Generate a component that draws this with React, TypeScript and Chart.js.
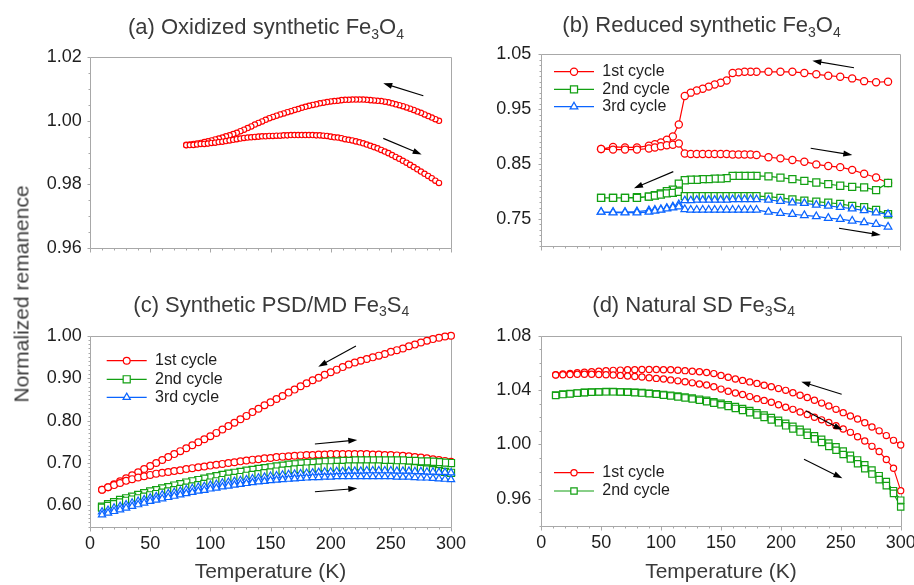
import React, { useEffect, useRef } from 'react';
import { Chart, registerables } from 'chart.js';

Chart.register(...registerables);

const FONT = '"Liberation Sans", Arial, Helvetica, sans-serif';
const RED = '#ff0000';
const GREEN = '#12a012';
const BLUE = '#0a64ff';
const AXIS = '#a8a8a8';
const INK = '#1e1e1e';
const TITLE_INK = '#3a3a3a';

// ---------- shared x axis ----------
const X_TICKS = [0, 50, 100, 150, 200, 250, 300];
const X_MINOR = 10;

// ---------- (a) Oxidized synthetic Fe3O4 ----------
const A_YTICKS = [0.96, 0.98, 1.0, 1.02];
const A_T = [
  80, 83, 86, 89, 92, 95, 98, 101, 104, 107,
  110, 113, 116, 119, 122, 125, 128, 131, 134, 137,
  140, 143, 146, 149, 152, 155, 158, 161, 164, 167,
  170, 173, 176, 179, 182, 185, 188, 191, 194, 197,
  200, 203, 206, 209, 212, 215, 218, 221, 224, 227,
  230, 233, 236, 239, 242, 245, 248, 251, 254, 257,
  260, 263, 266, 269, 272, 275, 278, 281, 284, 287,
  290,
];
// cooling branch (upper), listed by ascending temperature
const A_COOL = [
  0.9924, 0.99255, 0.9927, 0.99285, 0.993, 0.9933, 0.9935, 0.9938, 0.9941, 0.9944,
  0.9947, 0.9951, 0.9954, 0.9958, 0.9962, 0.9967, 0.9972, 0.9977, 0.9982, 0.9988,
  0.9993, 0.9998, 1.0003, 1.0008, 1.0012, 1.0016, 1.002, 1.0023, 1.0027, 1.003,
  1.0034, 1.0037, 1.0041, 1.0044, 1.0047, 1.005, 1.0052, 1.0055, 1.0057, 1.0059,
  1.0061, 1.0062, 1.0063, 1.0065, 1.0066, 1.0066, 1.0067, 1.0067, 1.0067, 1.0067,
  1.0066, 1.0065, 1.0064, 1.0063, 1.0062, 1.006, 1.0058, 1.0055, 1.0052, 1.0049,
  1.0046, 1.0042, 1.0038, 1.0034, 1.0029, 1.0025, 1.002, 1.0015, 1.001, 1.0005,
  1.0,
];
// warming branch (lower)
const A_WARM = [
  0.9923, 0.99235, 0.9924, 0.99255, 0.9927, 0.9927, 0.9928, 0.993, 0.9931, 0.9933,
  0.9934, 0.9936, 0.9938, 0.994, 0.9942, 0.9944, 0.9946, 0.9947, 0.9948, 0.9949,
  0.995, 0.9951, 0.9951, 0.9952, 0.9952, 0.9953, 0.9953, 0.9954, 0.9954, 0.9955,
  0.9955, 0.9955, 0.9955, 0.9955, 0.9955, 0.9955, 0.9954, 0.9954, 0.9953, 0.9952,
  0.995, 0.9948, 0.9947, 0.9945, 0.9942, 0.994, 0.9938, 0.9935, 0.9932, 0.9929,
  0.9925, 0.9921, 0.9917, 0.9913, 0.9908, 0.9903, 0.9898, 0.9892, 0.9886, 0.988,
  0.9874, 0.9868, 0.9861, 0.9854, 0.9847, 0.984, 0.9833, 0.9826, 0.9819, 0.9811,
  0.9804,
];
const A_ARROWS = [
  [277, 1.0079, 243.7, 1.0118],
  [243.7, 0.99445, 275.6, 0.9894],
];

// ---------- (b) Reduced synthetic Fe3O4 ----------
const B_YTICKS = [0.75, 0.85, 0.95, 1.05];
const B_COOL_T = [
  290, 280, 270, 260, 250, 240, 230, 220, 210, 200, 190,
  180, 175, 170, 165, 160, 155, 150, 145, 140, 135, 130, 125, 120,
  115, 110, 105, 100, 95, 90,
  80, 70, 60, 50,
];
const B_WARM_T = [
  50, 60, 70, 80,
  90, 95, 100, 105, 110, 115,
  120, 125, 130, 135, 140, 145, 150, 155, 160, 165, 170, 175, 180,
  190, 200, 210, 220, 230, 240, 250, 260, 270, 280, 290,
];
const B1_COOL = [
  1.0, 0.999, 1.001, 1.006, 1.009, 1.011, 1.0135, 1.016, 1.018, 1.018, 1.018,
  1.018, 1.018, 1.018, 1.017, 1.016, 1.002, 0.998, 0.995, 0.991, 0.987, 0.984, 0.98, 0.974,
  0.922, 0.9, 0.894, 0.889, 0.886, 0.883,
  0.88, 0.88, 0.881, 0.877,
];
const B1_WARM = [
  0.877, 0.876, 0.876, 0.876,
  0.878, 0.88, 0.882, 0.884, 0.885, 0.887,
  0.869, 0.868, 0.868, 0.868, 0.868, 0.868, 0.868, 0.868, 0.867, 0.867, 0.867, 0.867, 0.866,
  0.862, 0.86, 0.857, 0.854, 0.849, 0.846, 0.844, 0.839, 0.832, 0.825, 0.815,
];
const B2_COOL = [
  0.815, 0.802, 0.807, 0.808, 0.81, 0.813, 0.816, 0.819, 0.822, 0.825, 0.827,
  0.828, 0.828, 0.828, 0.828, 0.828, 0.824, 0.823, 0.823, 0.822, 0.822, 0.821, 0.821, 0.82,
  0.814, 0.803, 0.8, 0.796, 0.793, 0.79,
  0.789, 0.788, 0.788, 0.788,
];
const B2_WARM = [
  0.788, 0.788, 0.788, 0.788,
  0.79, 0.792, 0.794, 0.796, 0.797, 0.799,
  0.791, 0.791, 0.791, 0.791, 0.791, 0.791, 0.791, 0.791, 0.791, 0.791, 0.791, 0.791, 0.791,
  0.79, 0.788, 0.785, 0.783, 0.781, 0.779, 0.777, 0.773, 0.771, 0.766, 0.758,
];
const B3_COOL = [
  0.758, 0.761, 0.765, 0.768, 0.771, 0.773, 0.775, 0.778, 0.779, 0.782, 0.784,
  0.785, 0.785, 0.785, 0.785, 0.785, 0.784, 0.784, 0.784, 0.784, 0.784, 0.784, 0.783, 0.783,
  0.776, 0.772, 0.769, 0.767, 0.766, 0.765,
  0.763, 0.762, 0.762, 0.762,
];
const B3_WARM = [
  0.762, 0.761, 0.761, 0.761,
  0.762, 0.764, 0.766, 0.768, 0.77, 0.772,
  0.767, 0.766, 0.766, 0.766, 0.766, 0.766, 0.766, 0.766, 0.766, 0.766, 0.766, 0.766, 0.766,
  0.762, 0.76, 0.758, 0.756, 0.754, 0.751, 0.749, 0.746, 0.743, 0.74, 0.735,
];
const B_ARROWS = [
  [261.5, 1.0255, 226.7, 1.0383],
  [225.3, 0.8785, 260.1, 0.8662],
  [110.4, 0.8358, 77.5, 0.8055],
  [249, 0.7325, 283.9, 0.72],
];

// ---------- (c) Synthetic PSD/MD Fe3S4 ----------
const C_YTICKS = [0.6, 0.7, 0.8, 0.9, 1.0];
const C_T = [
  10, 15, 20, 25, 30, 35, 40, 45, 50, 55,
  60, 65, 70, 75, 80, 85, 90, 95, 100, 105,
  110, 115, 120, 125, 130, 135, 140, 145, 150, 155,
  160, 165, 170, 175, 180, 185, 190, 195, 200, 205,
  210, 215, 220, 225, 230, 235, 240, 245, 250, 255,
  260, 265, 270, 275, 280, 285, 290, 295, 300,
];
const C1_COOL = [
  0.637, 0.643, 0.65, 0.657, 0.664, 0.671, 0.678, 0.686, 0.693, 0.7,
  0.707, 0.714, 0.721, 0.728, 0.735, 0.742, 0.749, 0.756, 0.763, 0.771,
  0.779, 0.787, 0.795, 0.803, 0.811, 0.82, 0.828, 0.836, 0.843, 0.851,
  0.858, 0.866, 0.873, 0.881, 0.888, 0.895, 0.901, 0.908, 0.914, 0.92,
  0.926, 0.932, 0.937, 0.941, 0.945, 0.949, 0.953, 0.957, 0.962, 0.966,
  0.97, 0.975, 0.979, 0.984, 0.988, 0.992, 0.995, 0.998, 1.0,
];
const C1_WARM = [
  0.637, 0.643, 0.648, 0.653, 0.658, 0.662, 0.666, 0.669, 0.672, 0.675,
  0.677, 0.679, 0.681, 0.683, 0.686, 0.688, 0.69, 0.692, 0.694, 0.696,
  0.698, 0.7, 0.702, 0.704, 0.706, 0.708, 0.709, 0.711, 0.712, 0.714,
  0.715, 0.716, 0.717, 0.718, 0.719, 0.719, 0.72, 0.72, 0.721, 0.721,
  0.721, 0.721, 0.721, 0.721, 0.721, 0.72, 0.72, 0.719, 0.719, 0.718,
  0.717, 0.716, 0.714, 0.713, 0.711, 0.709, 0.707, 0.705, 0.703,
];
const C2_COOL = [
  0.597, 0.603, 0.608, 0.613, 0.617, 0.621, 0.625, 0.629, 0.633, 0.636,
  0.64, 0.643, 0.647, 0.65, 0.654, 0.657, 0.66, 0.663, 0.666, 0.669,
  0.672, 0.675, 0.677, 0.679, 0.682, 0.684, 0.686, 0.688, 0.69, 0.692,
  0.694, 0.696, 0.697, 0.699, 0.7, 0.701, 0.702, 0.703, 0.704, 0.704,
  0.705, 0.705, 0.706, 0.706, 0.706, 0.706, 0.706, 0.706, 0.706, 0.706,
  0.706, 0.705, 0.705, 0.704, 0.704, 0.703, 0.702, 0.701, 0.7,
];
const C2_WARM = [
  0.595, 0.599, 0.603, 0.607, 0.611, 0.614, 0.617, 0.621, 0.624, 0.627,
  0.63, 0.633, 0.636, 0.639, 0.642, 0.645, 0.648, 0.651, 0.654, 0.657,
  0.66, 0.663, 0.665, 0.667, 0.67, 0.672, 0.674, 0.676, 0.678, 0.68,
  0.682, 0.683, 0.685, 0.686, 0.687, 0.688, 0.689, 0.69, 0.69, 0.691,
  0.691, 0.692, 0.692, 0.692, 0.692, 0.692, 0.692, 0.691, 0.691, 0.69,
  0.69, 0.689, 0.688, 0.686, 0.685, 0.683, 0.681, 0.679, 0.677,
];
const C3_COOL = [
  0.585, 0.589, 0.594, 0.598, 0.602, 0.606, 0.61, 0.614, 0.618, 0.621,
  0.625, 0.628, 0.631, 0.634, 0.637, 0.64, 0.643, 0.645, 0.648, 0.65,
  0.653, 0.655, 0.657, 0.659, 0.661, 0.663, 0.665, 0.667, 0.669, 0.67,
  0.672, 0.673, 0.674, 0.675, 0.676, 0.677, 0.678, 0.679, 0.679, 0.68,
  0.68, 0.681, 0.681, 0.681, 0.682, 0.682, 0.682, 0.682, 0.682, 0.681,
  0.681, 0.681, 0.68, 0.68, 0.679, 0.679, 0.678, 0.678, 0.677,
];
const C3_WARM = [
  0.578, 0.582, 0.586, 0.59, 0.594, 0.598, 0.602, 0.606, 0.61, 0.613,
  0.616, 0.619, 0.622, 0.625, 0.628, 0.631, 0.634, 0.636, 0.639, 0.641,
  0.644, 0.646, 0.648, 0.65, 0.652, 0.654, 0.656, 0.657, 0.659, 0.66,
  0.661, 0.662, 0.663, 0.664, 0.665, 0.666, 0.666, 0.667, 0.667, 0.668,
  0.668, 0.668, 0.668, 0.668, 0.668, 0.668, 0.668, 0.668, 0.668, 0.667,
  0.667, 0.667, 0.666, 0.665, 0.665, 0.664, 0.663, 0.662, 0.661,
];
const C_ARROWS = [
  [221, 0.9757, 189.7, 0.927],
  [186.9, 0.7448, 222.1, 0.7543],
  [186.9, 0.6324, 222.1, 0.6403],
];

// ---------- (d) Natural SD Fe3S4 ----------
const D_YTICKS = [0.96, 1.0, 1.04, 1.08];
const D_T = [
  12, 18, 24, 30, 36, 42, 48, 54, 60, 66,
  72, 78, 84, 90, 96, 102, 108, 114, 120, 126,
  132, 138, 144, 150, 156, 162, 168, 174, 180, 186,
  192, 198, 204, 210, 216, 222, 228, 234, 240, 246,
  252, 258, 264, 270, 276, 282, 288, 294, 300,
];
const D1_COOL = [
  1.0513, 1.0518, 1.0522, 1.0527, 1.0531, 1.0535, 1.0539, 1.0542, 1.0545, 1.0547,
  1.0549, 1.055, 1.0551, 1.0551, 1.0551, 1.055, 1.0549, 1.0546, 1.0543, 1.0539,
  1.0535, 1.0529, 1.0521, 1.0508, 1.0494, 1.0482, 1.0471, 1.046, 1.0449, 1.0436,
  1.0424, 1.0411, 1.0398, 1.038, 1.0362, 1.0345, 1.0325, 1.0304, 1.0283, 1.0258,
  1.0234, 1.0209, 1.0187, 1.016, 1.0128, 1.01, 1.0065, 1.003, 0.9996,
];
const D1_WARM = [
  1.0511, 1.0513, 1.0515, 1.0516, 1.0516, 1.0516, 1.0515, 1.0513, 1.0511, 1.0508,
  1.0504, 1.05, 1.0496, 1.0491, 1.0486, 1.0481, 1.0475, 1.0468, 1.0461, 1.0453,
  1.0445, 1.0437, 1.0424, 1.0407, 1.0391, 1.0378, 1.0367, 1.0352, 1.0337, 1.0324,
  1.031, 1.0292, 1.0274, 1.0258, 1.0239, 1.022, 1.02, 1.0181, 1.0161, 1.0137,
  1.0114, 1.0089, 1.0057, 1.0025, 0.9986, 0.9948, 0.9889, 0.9825, 0.966,
];
const D2_COOL = [
  1.0364, 1.037, 1.0375, 1.0379, 1.0383, 1.0386, 1.0388, 1.0389, 1.0389, 1.0388,
  1.0386, 1.0384, 1.0381, 1.0377, 1.0373, 1.0368, 1.0362, 1.0356, 1.0349, 1.0341,
  1.0333, 1.0324, 1.0314, 1.0303, 1.0291, 1.0278, 1.0264, 1.0249, 1.0233, 1.0216,
  1.0198, 1.0178, 1.0156, 1.0134, 1.0112, 1.0089, 1.0064, 1.0038, 1.001, 0.9982,
  0.9952, 0.992, 0.9886, 0.985, 0.9811, 0.977, 0.9727, 0.966, 0.959,
];
const D2_WARM = [
  1.036, 1.0367, 1.0372, 1.0377, 1.0381, 1.0384, 1.0386, 1.0387, 1.0387, 1.0386,
  1.0384, 1.0381, 1.0378, 1.0374, 1.0369, 1.0363, 1.0357, 1.035, 1.0342, 1.0334,
  1.0325, 1.0315, 1.0304, 1.0292, 1.0279, 1.0265, 1.025, 1.0234, 1.0217, 1.0199,
  1.018, 1.0159, 1.0137, 1.0114, 1.0091, 1.0067, 1.0041, 1.0014, 0.9986, 0.9957,
  0.9926, 0.9893, 0.9858, 0.9821, 0.9782, 0.9741, 0.9697, 0.964, 0.954,
];
const D_ARROWS = [
  [250.7, 1.0369, 217, 1.0462],
  [220.7, 1.0248, 251.3, 1.0106],
  [219.3, 0.9891, 251.3, 0.9751],
];

// ---------- helpers ----------
type Pt = { x: number; y: number };
const pts = (T: number[], V: number[]): Pt[] => T.map((t, i) => ({ x: t, y: V[i] }));
const cycle = (Tc: number[], Vc: number[], Tw: number[], Vw: number[]): Pt[] => [
  ...pts(Tc, Vc),
  ...pts(Tw, Vw),
];
const rev = <T,>(a: T[]): T[] => a.slice().reverse();

type Mk = 'circle' | 'rect' | 'triangle';
interface SeriesDef { label: string; color: string; marker: Mk; r: number; data: Pt[] }
interface PanelDef {
  key: string;
  box: { left: number; top: number; w: number; h: number };
  pad: { left: number; top: number; right: number; bottom: number };
  yAxisW: number;
  xAxisH: number;
  yMin: number;
  yMax: number;
  yTicks: number[];
  yMinor: number;
  yGap: number;
  xLabels: boolean;
  showLine: boolean;
  lineW: number;
  markerW: number;
  series: SeriesDef[];
  arrows: number[][];
  legend?: { x1: number; x2: number; tx: number; ys: number[] };
  title: { x: number; y: number; parts: [string, boolean][] };
}

const PANELS: PanelDef[] = [
  {
    key: 'a',
    box: { left: 0, top: 0, w: 460, h: 290 },
    pad: { left: 30, top: 57.3, right: 9, bottom: 32.3 },
    yAxisW: 60, xAxisH: 10,
    yMin: 0.96, yMax: 1.02, yTicks: A_YTICKS, yMinor: 0.005, yGap: 8.3,
    xLabels: false, showLine: false, lineW: 1, markerW: 1.15,
    series: [
      {
        label: 'Oxidized', color: RED, marker: 'circle', r: 2.7,
        data: cycle(rev(A_T), rev(A_COOL), A_T, A_WARM),
      },
    ],
    arrows: A_ARROWS,
    title: { x: 128, y: 34.3, parts: [['(a) Oxidized synthetic Fe', false], ['3', true], ['O', false], ['4', true]] },
  },
  {
    key: 'b',
    box: { left: 454, top: 0, w: 460, h: 290 },
    pad: { left: 27.3, top: 54.3, right: 14, bottom: 34 },
    yAxisW: 60, xAxisH: 10,
    yMin: 0.7, yMax: 1.05, yTicks: B_YTICKS, yMinor: 0.01, yGap: 10,
    xLabels: false, showLine: true, lineW: 1.2, markerW: 1.25,
    series: [
      { label: '1st cycle', color: RED, marker: 'circle', r: 3.6, data: cycle(B_COOL_T, B1_COOL, B_WARM_T, B1_WARM) },
      { label: '2nd cycle', color: GREEN, marker: 'rect', r: 5.0, data: cycle(B_COOL_T, B2_COOL, B_WARM_T, B2_WARM) },
      { label: '3rd cycle', color: BLUE, marker: 'triangle', r: 4.4, data: cycle(B_COOL_T, B3_COOL, B_WARM_T, B3_WARM) },
    ],
    arrows: B_ARROWS,
    legend: { x1: 100, x2: 140, tx: 148.3, ys: [71.7, 89.3, 106.7] },
    title: { x: 108.3, y: 32.3, parts: [['(b) Reduced synthetic Fe', false], ['3', true], ['O', false], ['4', true]] },
  },
  {
    key: 'c',
    box: { left: 0, top: 290, w: 470, h: 295 },
    pad: { left: 30, top: 45.7, right: 19, bottom: 0 },
    yAxisW: 60, xAxisH: 58.3,
    yMin: 0.55, yMax: 1.0, yTicks: C_YTICKS, yMinor: 0.01, yGap: 8.3,
    xLabels: true, showLine: true, lineW: 1.1, markerW: 1.2,
    series: [
      { label: '1st cycle', color: RED, marker: 'circle', r: 3.4, data: cycle(rev(C_T), rev(C1_COOL), C_T, C1_WARM) },
      { label: '2nd cycle', color: GREEN, marker: 'rect', r: 5.0, data: cycle(rev(C_T), rev(C2_COOL), C_T, C2_WARM) },
      { label: '3rd cycle', color: BLUE, marker: 'triangle', r: 4.2, data: cycle(rev(C_T), rev(C3_COOL), C_T, C3_WARM) },
    ],
    arrows: C_ARROWS,
    legend: { x1: 106.7, x2: 146.7, tx: 155, ys: [70.7, 89.3, 107.3] },
    title: { x: 133.3, y: 21.7, parts: [['(c) Synthetic PSD/MD Fe', false], ['3', true], ['S', false], ['4', true]] },
  },
  {
    key: 'd',
    box: { left: 454, top: 290, w: 460, h: 295 },
    pad: { left: 27.3, top: 45.7, right: 13.3, bottom: 0 },
    yAxisW: 60, xAxisH: 59,
    yMin: 0.94, yMax: 1.08, yTicks: D_YTICKS, yMinor: 0.01, yGap: 10,
    xLabels: true, showLine: true, lineW: 1.1, markerW: 1.2,
    series: [
      { label: '1st cycle', color: RED, marker: 'circle', r: 3.1, data: cycle(rev(D_T), rev(D1_COOL), D_T, D1_WARM) },
      { label: '2nd cycle', color: GREEN, marker: 'rect', r: 4.5, data: cycle(rev(D_T), rev(D2_COOL), D_T, D2_WARM) },
    ],
    arrows: D_ARROWS,
    legend: { x1: 100, x2: 140, tx: 148.3, ys: [182.7, 201] },
    title: { x: 138.3, y: 21.7, parts: [['(d) Natural SD Fe', false], ['3', true], ['S', false], ['4', true]] },
  },
];

function drawMarker(ctx: CanvasRenderingContext2D, m: Mk, x: number, y: number, r: number) {
  ctx.beginPath();
  if (m === 'circle') {
    ctx.arc(x, y, r, 0, Math.PI * 2);
  } else if (m === 'rect') {
    const s = r * Math.SQRT1_2;
    ctx.rect(x - s, y - s, 2 * s, 2 * s);
  } else {
    ctx.moveTo(x, y - r);
    ctx.lineTo(x + r * Math.sin((2 * Math.PI) / 3), y - r * Math.cos((2 * Math.PI) / 3));
    ctx.lineTo(x + r * Math.sin((4 * Math.PI) / 3), y - r * Math.cos((4 * Math.PI) / 3));
    ctx.closePath();
  }
  ctx.fill();
  ctx.stroke();
}

function makeDecor(p: PanelDef) {
  return {
    id: 'decor_' + p.key,
    beforeDatasetsDraw(chart: any) {
      const { ctx, chartArea: a } = chart;
      const xs = chart.scales.x;
      const ys = chart.scales.y;
      const al = (v: number) => Math.round(v) + 0.5;
      const L = al(a.left), R = al(a.right), T = al(a.top), B = al(a.bottom);
      ctx.save();
      ctx.strokeStyle = AXIS;
      ctx.lineWidth = 1;
      ctx.beginPath();
      ctx.rect(L, T, R - L, B - T);
      const nx = Math.round((xs.max - xs.min) / X_MINOR);
      for (let i = 0; i <= nx; i++) {
        const v = xs.min + i * X_MINOR;
        const major = X_TICKS.some((t) => Math.abs(t - v) < 1e-6);
        const px = al(xs.getPixelForValue(v));
        ctx.moveTo(px, B);
        ctx.lineTo(px, B + (major ? 4 : 2));
      }
      const ny = Math.round((ys.max - ys.min) / p.yMinor);
      for (let i = 0; i <= ny; i++) {
        const v = ys.min + i * p.yMinor;
        const major = p.yTicks.some((t) => Math.abs(t - v) < 1e-6);
        const py = al(ys.getPixelForValue(v));
        ctx.moveTo(L, py);
        ctx.lineTo(L - (major ? 3 : 2), py);
      }
      ctx.stroke();
      ctx.restore();
    },
    afterDatasetsDraw(chart: any) {
      const { ctx } = chart;
      const xs = chart.scales.x;
      const ys = chart.scales.y;
      ctx.save();
      // arrows
      ctx.strokeStyle = '#000';
      ctx.fillStyle = '#000';
      ctx.lineWidth = 1.1;
      for (const [x1, y1, x2, y2] of p.arrows) {
        const ax = xs.getPixelForValue(x1), ay = ys.getPixelForValue(y1);
        const bx = xs.getPixelForValue(x2), by = ys.getPixelForValue(y2);
        const ang = Math.atan2(by - ay, bx - ax);
        const hl = 9, hw = 3;
        const cx = bx - hl * Math.cos(ang), cy = by - hl * Math.sin(ang);
        ctx.beginPath();
        ctx.moveTo(ax, ay);
        ctx.lineTo(cx + 2 * Math.cos(ang), cy + 2 * Math.sin(ang));
        ctx.stroke();
        ctx.beginPath();
        ctx.moveTo(bx, by);
        ctx.lineTo(cx - hw * Math.sin(ang), cy + hw * Math.cos(ang));
        ctx.lineTo(cx + hw * Math.sin(ang), cy - hw * Math.cos(ang));
        ctx.closePath();
        ctx.fill();
      }
      // legend
      if (p.legend) {
        const lg = p.legend;
        p.series.forEach((s, i) => {
          const y = lg.ys[i];
          ctx.strokeStyle = s.color;
          ctx.lineWidth = p.lineW + 0.1;
          ctx.beginPath();
          ctx.moveTo(lg.x1, y);
          ctx.lineTo(lg.x2, y);
          ctx.stroke();
          ctx.fillStyle = '#fff';
          ctx.lineWidth = p.markerW;
          drawMarker(ctx, s.marker, (lg.x1 + lg.x2) / 2, y, s.r);
          ctx.fillStyle = INK;
          ctx.font = `16px ${FONT}`;
          ctx.textAlign = 'left';
          ctx.textBaseline = 'middle';
          ctx.fillText(s.label, lg.tx, y);
        });
      }
      // panel title with subscripts
      let tx = p.title.x;
      ctx.fillStyle = TITLE_INK;
      ctx.textAlign = 'left';
      ctx.textBaseline = 'alphabetic';
      for (const [t, sub] of p.title.parts) {
        ctx.font = `${sub ? 14 : 22}px ${FONT}`;
        ctx.fillText(t, tx, p.title.y + (sub ? 4.5 : 0));
        tx += ctx.measureText(t).width;
      }
      ctx.restore();
    },
  };
}

function makeConfig(p: PanelDef): any {
  const n = p.series.length;
  return {
    type: 'line',
    data: {
      datasets: p.series.map((s, i) => ({
        label: s.label,
        data: s.data,
        borderColor: s.color,
        borderWidth: p.lineW,
        showLine: p.showLine,
        pointStyle: s.marker,
        pointRadius: s.r,
        pointBorderWidth: p.markerW,
        pointBorderColor: s.color,
        pointBackgroundColor: '#ffffff',
        backgroundColor: '#ffffff',
        fill: false,
        tension: 0,
        clip: false,
        order: n - i,
      })),
    },
    options: {
      animation: false,
      responsive: false,
      maintainAspectRatio: false,
      devicePixelRatio: 1,
      events: [],
      layout: { padding: p.pad },
      plugins: { legend: { display: false }, tooltip: { enabled: false }, title: { display: false } },
      scales: {
        x: {
          type: 'linear',
          min: 0,
          max: 300,
          afterBuildTicks: (ax: any) => {
            ax.ticks = X_TICKS.map((v) => ({ value: v }));
          },
          afterFit: (ax: any) => {
            ax.height = p.xAxisH;
            ax.paddingLeft = 0;
            ax.paddingRight = 0;
            ax.paddingTop = 0;
            ax.paddingBottom = 0;
          },
          grid: { display: false, drawTicks: false },
          border: { display: false },
          ticks: {
            display: p.xLabels,
            autoSkip: false,
            maxRotation: 0,
            padding: 6.5,
            color: INK,
            font: { family: FONT, size: 18 },
            callback: (v: any) => String(v),
          },
          title: {
            display: p.xLabels,
            text: 'Temperature (K)',
            color: TITLE_INK,
            font: { family: FONT, size: 21 },
            padding: 0,
          },
        },
        y: {
          type: 'linear',
          min: p.yMin,
          max: p.yMax,
          afterBuildTicks: (ax: any) => {
            ax.ticks = p.yTicks.map((v) => ({ value: v }));
          },
          afterFit: (ax: any) => {
            ax.width = p.yAxisW;
            ax.paddingLeft = 0;
            ax.paddingRight = 0;
            ax.paddingTop = 0;
            ax.paddingBottom = 0;
          },
          grid: { display: false, drawTicks: false },
          border: { display: false },
          ticks: {
            autoSkip: false,
            padding: p.yGap,
            color: INK,
            font: { family: FONT, size: 18 },
            callback: (v: any) => Number(v).toFixed(2),
          },
        },
      },
    },
    plugins: [makeDecor(p)],
  };
}

function Panel({ p }: { p: PanelDef }) {
  const ref = useRef<HTMLCanvasElement | null>(null);
  useEffect(() => {
    if (!ref.current) return;
    const chart = new Chart(ref.current, makeConfig(p));
    return () => chart.destroy();
  }, [p]);
  return (
    <canvas
      ref={ref}
      width={p.box.w}
      height={p.box.h}
      style={{ position: 'absolute', left: p.box.left, top: p.box.top, width: p.box.w, height: p.box.h }}
    />
  );
}

export default function App() {
  return (
    <div
      style={{
        position: 'absolute',
        left: 0,
        top: 0,
        width: 914,
        height: 585,
        background: '#ffffff',
        overflow: 'hidden',
      }}
    >
      {PANELS.map((p) => (
        <Panel key={p.key} p={p} />
      ))}
      <div
        style={{
          position: 'absolute',
          left: 21,
          top: 293.5,
          transform: 'translate(-50%, -50%) rotate(-90deg)',
          whiteSpace: 'nowrap',
          fontFamily: FONT,
          fontSize: 21,
          lineHeight: 1,
          color: TITLE_INK,
        }}
      >
        Normalized remanence
      </div>
    </div>
  );
}
